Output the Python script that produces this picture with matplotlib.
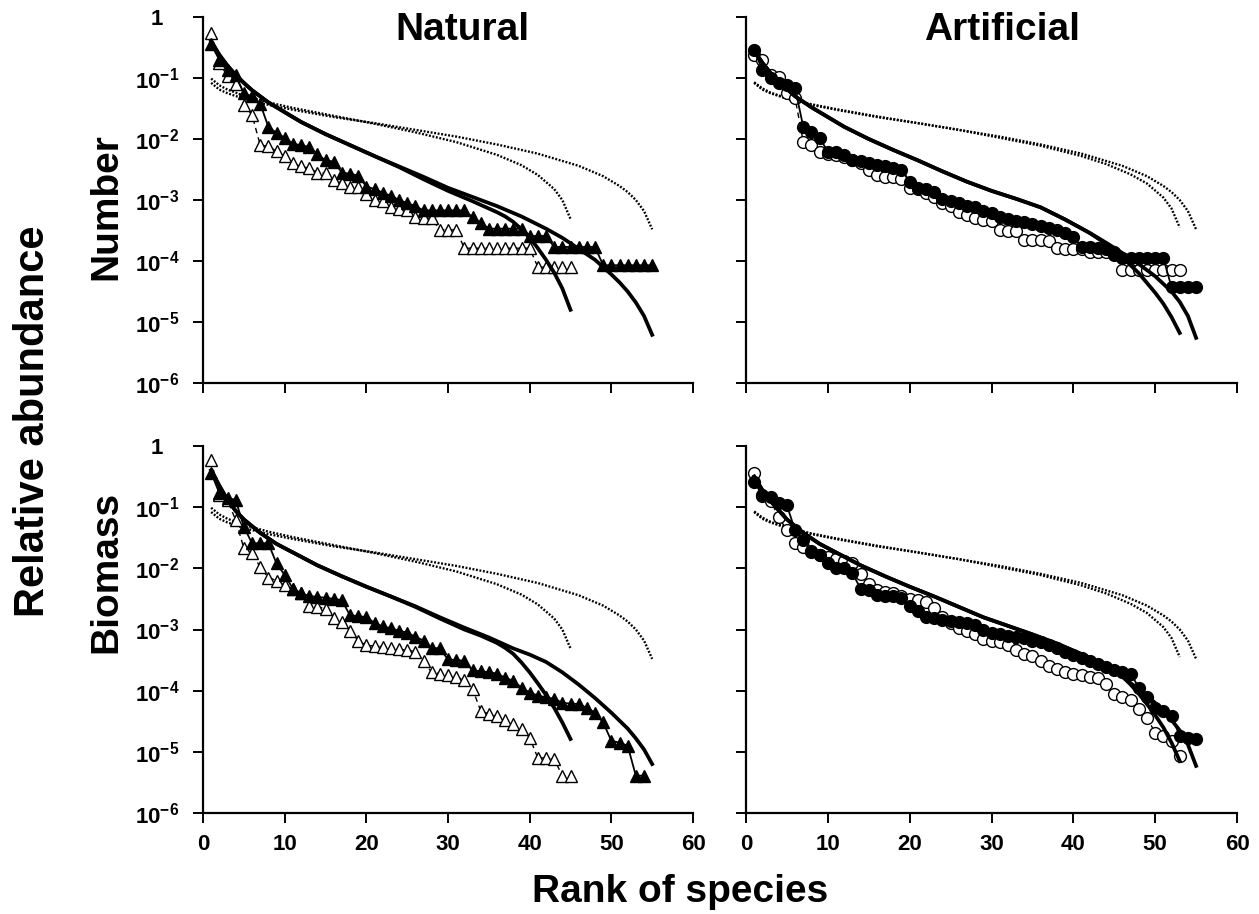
import numpy as np
import matplotlib
matplotlib.use('Agg')
import matplotlib.pyplot as plt
from matplotlib.ticker import FixedLocator, NullLocator

plt.rcParams['font.family'] = ['Liberation Sans', 'DejaVu Sans']
plt.rcParams['font.weight'] = 'bold'
plt.rcParams['mathtext.fontset'] = 'custom'
plt.rcParams['mathtext.rm'] = 'Liberation Sans:bold'
plt.rcParams['mathtext.it'] = 'Liberation Sans:bold'
plt.rcParams['mathtext.bf'] = 'Liberation Sans:bold'
plt.rcParams['mathtext.default'] = 'rm'

# all abundances are stored as log10 values

# --- Number / Natural (triangles)
num_nat_open = [-0.26, -0.75, -0.97, -1.10, -1.45, -1.60, -2.10, -2.12, -2.20, -2.28,
                -2.40, -2.45, -2.48, -2.55, -2.56, -2.68, -2.72, -2.78, -2.79, -2.90,
                -3.00, -3.02, -3.12, -3.15, -3.16, -3.28, -3.29, -3.30, -3.49, -3.49, -3.49,
                -3.79, -3.79, -3.79, -3.79, -3.79, -3.79, -3.79, -3.79, -3.79,
                -4.10, -4.10, -4.10, -4.10, -4.10]
num_nat_fill = [-0.45, -0.70, -0.87, -0.95, -1.25, -1.30, -1.42, -1.80, -1.90, -1.98,
                -2.08, -2.10, -2.13, -2.25, -2.35, -2.37, -2.55, -2.57, -2.60, -2.78,
                -2.82, -2.88, -2.93, -3.00, -3.05, -3.10,
                -3.17, -3.17, -3.17, -3.17, -3.17, -3.17, -3.28, -3.37,
                -3.47, -3.47, -3.47, -3.47, -3.47, -3.59, -3.59, -3.59,
                -3.77, -3.77, -3.77, -3.77, -3.77, -3.77,
                -4.07, -4.07, -4.07, -4.07, -4.07, -4.07, -4.07]

# --- Number / Artificial (circles)
num_art_open = [-0.62, -0.70, -0.95, -0.98, -1.25, -1.33, -2.05, -2.10, -2.21, -2.25,
                -2.27, -2.30, -2.35, -2.40, -2.50, -2.59, -2.62, -2.62, -2.66, -2.80,
                -2.82, -2.88, -2.95, -3.05, -3.10, -3.20, -3.25, -3.30, -3.33, -3.35,
                -3.49, -3.50, -3.50, -3.66, -3.66, -3.66, -3.67, -3.79, -3.80, -3.80,
                -3.80, -3.85, -3.85, -3.85, -3.86,
                -4.15, -4.15, -4.15, -4.15, -4.15, -4.15, -4.15, -4.15]
num_art_fill = [-0.54, -0.87, -1.00, -1.08, -1.11, -1.17, -1.80, -1.88, -1.98, -2.21,
                -2.22, -2.26, -2.34, -2.36, -2.39, -2.42, -2.45, -2.48, -2.51, -2.70,
                -2.80, -2.82, -2.87, -2.99, -3.02, -3.05, -3.10, -3.12, -3.18, -3.22,
                -3.28, -3.31, -3.34, -3.36, -3.40, -3.43, -3.46, -3.49, -3.54, -3.60,
                -3.77, -3.77, -3.79, -3.80, -3.90, -3.95, -3.95, -3.95, -3.95, -3.95,
                -3.95, -4.43, -4.43, -4.43, -4.43]

# --- Biomass / Natural
bio_nat_open = [-0.23, -0.80, -0.89, -1.21, -1.67, -1.75, -1.98, -2.15, -2.20, -2.28,
                -2.33, -2.40, -2.61, -2.63, -2.66, -2.82, -2.88, -3.02, -3.18, -3.26,
                -3.27, -3.28, -3.30, -3.32, -3.34, -3.36, -3.52,
                -3.70, -3.72, -3.75, -3.78, -3.82, -3.97,
                -4.33, -4.38, -4.42, -4.48, -4.54, -4.62, -4.77,
                -5.10, -5.10, -5.12, -5.39, -5.39]
bio_nat_fill = [-0.44, -0.77, -0.85, -0.88, -1.32, -1.59, -1.59, -1.59, -1.92, -2.11,
                -2.33, -2.41, -2.45, -2.47, -2.48, -2.50, -2.52, -2.77, -2.78, -2.80,
                -2.89, -2.95, -2.98, -3.02, -3.05, -3.12, -3.18, -3.30, -3.31, -3.49,
                -3.50, -3.51, -3.67, -3.68, -3.70, -3.72, -3.79, -3.84, -3.95, -4.03,
                -4.08, -4.11, -4.13, -4.20, -4.21, -4.22, -4.28, -4.36, -4.52, -4.82,
                -4.85, -4.90, -5.39, -5.39]

# --- Biomass / Artificial
bio_art_open = [-0.44, -0.82, -0.90, -1.16, -1.38, -1.59, -1.65, -1.72, -1.78, -1.82,
                -1.85, -1.88, -1.92, -2.10, -2.25, -2.36, -2.38, -2.40, -2.45, -2.50,
                -2.52, -2.55, -2.65, -2.80, -2.90, -2.97, -3.02, -3.08, -3.15, -3.18,
                -3.21, -3.26, -3.33, -3.40, -3.43, -3.52, -3.59, -3.65, -3.70, -3.73,
                -3.75, -3.77, -3.79, -3.89, -4.05, -4.10, -4.16, -4.30, -4.44, -4.69,
                -4.74, -4.82, -5.07]
bio_art_fill = [-0.59, -0.80, -0.84, -0.93, -0.97, -1.38, -1.54, -1.74, -1.79, -1.92,
                -2.00, -2.00, -2.08, -2.33, -2.36, -2.44, -2.45, -2.46, -2.49, -2.61,
                -2.69, -2.80, -2.82, -2.84, -2.86, -2.87, -2.89, -2.93, -3.00, -3.05,
                -3.07, -3.10, -3.12, -3.14, -3.18, -3.21, -3.26, -3.31, -3.36, -3.41,
                -3.46, -3.51, -3.57, -3.62, -3.66, -3.69, -3.72, -3.95, -4.10, -4.28,
                -4.33, -4.41, -4.74, -4.78, -4.79]

# thick fitted curves (rank, log10)
fit_nat_num_55_x = [1, 2, 3, 4, 5, 6, 7, 8, 10, 12, 15, 18, 21, 24, 27, 30, 33, 36, 39, 42, 44, 46, 48, 50, 51, 52, 53, 54, 55]
fit_nat_num_55_y = [-0.40, -0.62, -0.80, -0.95, -1.08, -1.20, -1.30, -1.40, -1.56, -1.72, -1.92, -2.10, -2.28,
                    -2.45, -2.62, -2.80, -2.95, -3.10, -3.27, -3.47, -3.62, -3.80, -3.98, -4.22, -4.35,
                    -4.50, -4.68, -4.90, -5.21]
fit_nat_num_45_x = [1, 2, 3, 4, 5, 6, 7, 8, 10, 12, 15, 18, 21, 24, 27, 30, 33, 36, 37, 38, 39, 40, 41, 42, 43, 44, 45]
fit_nat_num_45_y = [-0.40, -0.62, -0.80, -0.95, -1.08, -1.20, -1.30, -1.40, -1.56, -1.72, -1.92, -2.10, -2.28,
                    -2.46, -2.66, -2.85, -3.02, -3.20, -3.27, -3.36, -3.48, -3.62, -3.79, -3.98, -4.19,
                    -4.45, -4.80]

fit_art_num_55_x = [1, 2, 3, 4, 5, 6, 8, 10, 12, 15, 18, 21, 24, 27, 30, 33, 36, 39, 42, 44, 46, 48, 50, 52, 53, 54, 55]
fit_art_num_55_y = [-0.55, -0.75, -0.92, -1.06, -1.18, -1.30, -1.48, -1.64, -1.80, -2.00, -2.18, -2.35, -2.53,
                    -2.70, -2.85, -2.98, -3.12, -3.32, -3.54, -3.70, -3.87, -4.05, -4.25, -4.50, -4.67,
                    -4.90, -5.26]
fit_art_num_53_x = [1, 2, 3, 4, 5, 6, 8, 10, 12, 15, 18, 21, 24, 27, 30, 33, 36, 39, 42, 44, 46, 48, 49, 50, 51, 52, 53]
fit_art_num_53_y = [-0.55, -0.75, -0.92, -1.06, -1.18, -1.30, -1.48, -1.64, -1.80, -2.00, -2.18, -2.35, -2.53,
                    -2.70, -2.85, -2.98, -3.12, -3.32, -3.54, -3.72, -3.94, -4.20, -4.36, -4.52, -4.70,
                    -4.92, -5.18]

fit_nat_bio_55_x = [1, 2, 3, 4, 5, 7, 9, 11, 14, 17, 20, 23, 26, 29, 32, 35, 38, 40, 42, 44, 46, 48, 50, 52, 53, 54, 55]
fit_nat_bio_55_y = [-0.40, -0.65, -0.88, -1.06, -1.20, -1.42, -1.60, -1.74, -1.95, -2.13, -2.30, -2.46, -2.62,
                    -2.80, -2.97, -3.13, -3.31, -3.41, -3.53, -3.70, -3.90, -4.12, -4.36, -4.62, -4.78,
                    -4.96, -5.20]
fit_nat_bio_45_x = [1, 2, 3, 4, 5, 7, 9, 11, 14, 17, 20, 23, 26, 29, 32, 34, 36, 37, 38, 39, 40, 41, 42, 43, 44, 45]
fit_nat_bio_45_y = [-0.40, -0.65, -0.88, -1.06, -1.20, -1.42, -1.60, -1.74, -1.95, -2.13, -2.30, -2.46, -2.63,
                    -2.82, -3.00, -3.10, -3.22, -3.30, -3.40, -3.54, -3.70, -3.88, -4.07, -4.28, -4.52, -4.79]

fit_art_bio_55_x = [1, 2, 3, 4, 5, 7, 9, 11, 14, 17, 20, 23, 26, 29, 32, 35, 38, 42, 44, 46, 48, 50, 52, 53, 54, 55]
fit_art_bio_55_y = [-0.50, -0.72, -0.90, -1.05, -1.20, -1.42, -1.60, -1.74, -1.95, -2.13, -2.30, -2.46, -2.63,
                    -2.80, -2.94, -3.08, -3.23, -3.46, -3.60, -3.77, -3.98, -4.20, -4.48, -4.65, -4.88, -5.23]
fit_art_bio_53_x = [1, 2, 3, 4, 5, 7, 9, 11, 14, 17, 20, 23, 26, 29, 32, 35, 38, 42, 44, 46, 47, 48, 49, 50, 51, 52, 53]
fit_art_bio_53_y = [-0.50, -0.72, -0.90, -1.05, -1.20, -1.42, -1.60, -1.74, -1.95, -2.13, -2.30, -2.46, -2.63,
                    -2.80, -2.94, -3.08, -3.23, -3.46, -3.60, -3.77, -3.90, -4.05, -4.22, -4.40, -4.60,
                    -4.85, -5.15]

# dotted curves (rank, log10)
dot_45_x = [1, 2, 3, 5, 8, 11, 16, 21, 26, 31, 36, 39, 41, 43, 44, 45]
dot_45_y = [-1.01, -1.12, -1.19, -1.29, -1.40, -1.49, -1.62, -1.75, -1.89, -2.05, -2.26, -2.43, -2.59, -2.82, -3.00, -3.31]
dot_53_x = [1, 2, 3, 5, 8, 11, 16, 21, 26, 31, 36, 41, 44, 47, 49, 51, 52, 53]
dot_53_y = [-1.07, -1.17, -1.24, -1.33, -1.43, -1.51, -1.63, -1.74, -1.85, -1.98, -2.11, -2.28, -2.41, -2.58, -2.73, -2.96, -3.14, -3.45]
dot_55_x = [1, 2, 3, 5, 8, 11, 16, 21, 26, 31, 36, 41, 46, 49, 51, 52, 53, 54, 55]
dot_55_y = [-1.08, -1.19, -1.25, -1.34, -1.44, -1.52, -1.64, -1.74, -1.85, -1.96, -2.09, -2.24, -2.44, -2.61, -2.77, -2.87, -3.00, -3.18, -3.48]

yticks_log = [0, -1, -2, -3, -4, -5, -6]
ytick_labels = ['1', r'$10^{-1}$', r'$10^{-2}$', r'$10^{-3}$', r'$10^{-4}$', r'$10^{-5}$', r'$10^{-6}$']
xticks = [0, 10, 20, 30, 40, 50, 60]

W, H = 1259, 914
fig = plt.figure(figsize=(W / 100, H / 100), dpi=100)

def pos(x0, x1, ytop, ybot):
    return [x0 / W, 1 - ybot / H, (x1 - x0) / W, (ybot - ytop) / H]

ax_tl = fig.add_axes(pos(203, 693, 17, 383))
ax_tr = fig.add_axes(pos(746, 1237, 17, 383))
ax_bl = fig.add_axes(pos(203, 693, 446, 813))
ax_br = fig.add_axes(pos(746, 1237, 446, 813))


def p10(v):
    return 10.0 ** np.array(v)


def draw(ax, opn, fil, mk, fits, dots, left, bottom):
    for dx, dy in dots:
        ax.plot(dx, p10(dy), color='black', lw=1.7, ls=(0, (0.8, 0.7)), zorder=2)
    r_o = np.arange(1, len(opn) + 1)
    r_f = np.arange(1, len(fil) + 1)
    ms = 9 if mk == '^' else 8.5
    ax.plot(r_o, p10(opn), color='black', lw=1.0, ls=(0, (4, 3)), marker=mk, ms=ms,
            mfc='white', mec='black', mew=1.0, zorder=3)
    ax.plot(r_f, p10(fil), color='black', lw=1.3, marker=mk, ms=ms,
            mfc='black', mec='black', zorder=4)
    for fx, fy in fits:
        ax.plot(fx, p10(fy), color='black', lw=2.7, solid_joinstyle='round', zorder=5)

    ax.set_yscale('log')
    ax.set_ylim(1e-6, 1)
    ax.set_xlim(0, 60)
    ax.yaxis.set_major_locator(FixedLocator(p10(yticks_log)))
    ax.yaxis.set_minor_locator(NullLocator())
    ax.xaxis.set_major_locator(FixedLocator(xticks))
    for s in ['top', 'right']:
        ax.spines[s].set_visible(False)
    for s in ['left', 'bottom']:
        ax.spines[s].set_linewidth(1.6)
    ax.tick_params(direction='out', length=7, width=1.4)
    ax.tick_params(axis='y', pad=26)
    ax.tick_params(axis='x', pad=8)
    if left:
        ax.set_yticklabels(ytick_labels, fontsize=16, fontweight='bold')
        for lab in ax.get_yticklabels():
            lab.set_horizontalalignment('center')
    else:
        ax.set_yticklabels([])
    if bottom:
        ax.set_xticklabels([str(t) for t in xticks], fontsize=16, fontweight='bold')
    else:
        ax.set_xticklabels([])


draw(ax_tl, num_nat_open, num_nat_fill, '^',
     [(fit_nat_num_55_x, fit_nat_num_55_y), (fit_nat_num_45_x, fit_nat_num_45_y)],
     [(dot_55_x, dot_55_y), (dot_45_x, dot_45_y)], True, False)
draw(ax_tr, num_art_open, num_art_fill, 'o',
     [(fit_art_num_55_x, fit_art_num_55_y), (fit_art_num_53_x, fit_art_num_53_y)],
     [(dot_55_x, dot_55_y), (dot_53_x, dot_53_y)], False, False)
draw(ax_bl, bio_nat_open, bio_nat_fill, '^',
     [(fit_nat_bio_55_x, fit_nat_bio_55_y), (fit_nat_bio_45_x, fit_nat_bio_45_y)],
     [(dot_55_x, dot_55_y), (dot_45_x, dot_45_y)], True, True)
draw(ax_br, bio_art_open, bio_art_fill, 'o',
     [(fit_art_bio_55_x, fit_art_bio_55_y), (fit_art_bio_53_x, fit_art_bio_53_y)],
     [(dot_55_x, dot_55_y), (dot_53_x, dot_53_y)], False, True)

# titles and axis labels
fig.text(462 / W, 1 - 30 / H, 'Natural', ha='center', va='center', fontsize=28, fontweight='bold')
fig.text(1002 / W, 1 - 30 / H, 'Artificial', ha='center', va='center', fontsize=28, fontweight='bold')
fig.text(106 / W, 1 - 207 / H, 'Number', ha='center', va='center', rotation=90, fontsize=28, fontweight='bold')
fig.text(106 / W, 1 - 572 / H, 'Biomass', ha='center', va='center', rotation=90, fontsize=28, fontweight='bold')
fig.text(33 / W, 1 - 421 / H, 'Relative abundance', ha='center', va='center', rotation=90,
         fontsize=30, fontweight='bold')
fig.text(680 / W, 1 - 892 / H, 'Rank of species', ha='center', va='center', fontsize=28, fontweight='bold')

fig.savefig('out.png', dpi=100, facecolor='white')
